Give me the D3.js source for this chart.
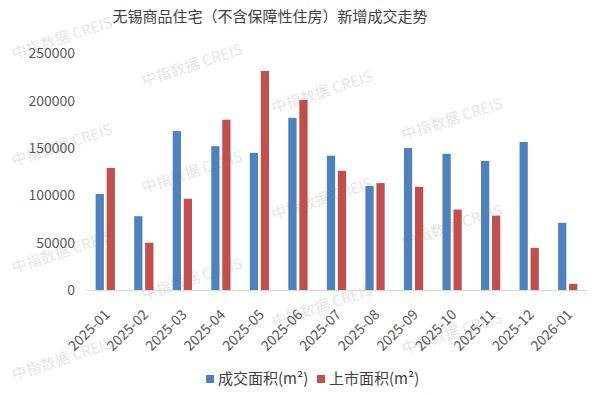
<!DOCTYPE html>
<html>
<head>
<meta charset="utf-8">
<script src="https://cdn.jsdelivr.net/npm/d3@7"></script>
<style>
  body { margin: 0; background: #fff; }
  svg text { font-family: "Noto Sans CJK SC", "Noto Sans", sans-serif; }
</style>
</head>
<body>
<div id="chart"></div>
<script>
// Data
const months = ['2025-01','2025-02','2025-03','2025-04','2025-05','2025-06','2025-07',
                '2025-08','2025-09','2025-10','2025-11','2025-12','2026-01'];
const dealArea = [101500, 78000, 168000, 152000, 145000, 182000, 142000,
                  110000, 150000, 144000, 136500, 156500, 71000];
const supplyArea = [129000, 50000, 96500, 180000, 231500, 201000, 126000,
                    113000, 109000, 85000, 78500, 44500, 6500];
const seriesNames = ['成交面积(m²)', '上市面积(m²)'];
const colors = ['#4F81BD', '#C0504D'];
const yTicks = [0, 50000, 100000, 150000, 200000, 250000];

const width = 600, height = 395;
const svg = d3.select('#chart').append('svg')
    .attr('width', width)
    .attr('height', height);

// Watermark (decoration), only the copies that fit inside the picture
const wm = svg.append('g').attr('class', 'watermark');
for (let c = 0; c < 5; c++) {
    for (let r = -1; r < 4; r++) {
        let cx = 62 + c * 130;
        let cy = 38 + c * 27 + r * 107;
        if (cx < 55 || cx > 545 || cy < 30 || cy > 370) continue;
        wm.append('text')
            .attr('transform', `translate(${cx},${cy}) rotate(-18)`)
            .attr('text-anchor', 'middle')
            .attr('dy', '0.35em')
            .style('font-size', '15px')
            .style('fill', '#e6e6e6')
            .text('中指数据 CREIS');
    }
}

// Title
svg.append('text')
    .attr('x', 270)
    .attr('y', 17)
    .attr('text-anchor', 'middle')
    .attr('dy', '0.35em')
    .style('font-size', '15px')
    .style('fill', '#404040')
    .text('无锡商品住宅（不含保障性住房）新增成交走势');

// Scales
let x = d3.scaleBand()
    .domain(months)
    .range([86, 587])
    .paddingInner(0.5)
    .paddingOuter(0.25);

let xs = d3.scaleBand()
    .domain([0, 1])
    .range([0, x.bandwidth()])
    .paddingInner(0.25);

let y = d3.scaleLinear()
    .domain([0, 250000])
    .range([290, 53.5]);

// Y axis
let yAxis = d3.axisLeft(y).tickValues(yTicks).tickFormat(d3.format('d')).tickSize(0).tickPadding(11);
svg.append('g')
    .attr('class', 'y axis')
    .attr('transform', 'translate(86,0)')
    .call(yAxis)
    .call(g => g.select('.domain').remove())
    .selectAll('text')
    .style('font-size', '14px')
    .style('fill', '#595959');

// Bars
let rows = months.map((m, i) => ({month: m, values: [dealArea[i], supplyArea[i]]}));

let groups = svg.append('g').attr('class', 'bars')
    .selectAll('g')
    .data(rows).enter()
    .append('g')
    .attr('transform', d => `translate(${x(d.month)},0)`);

groups.selectAll('rect')
    .data(d => d.values).enter()
    .append('rect')
    .attr('x', (d, i) => xs(i))
    .attr('width', xs.bandwidth())
    .attr('y', d => y(d))
    .attr('height', d => y(0) - y(d))
    .style('fill', (d, i) => colors[i]);

// X axis
let xAxis = d3.axisBottom(x).tickSize(0).tickPadding(0);
let gx = svg.append('g')
    .attr('class', 'x axis')
    .attr('transform', `translate(0,${y(0)})`)
    .call(xAxis);

gx.select('.domain').attr('stroke', '#d9d9d9').attr('stroke-width', 1);

gx.selectAll('text')
    .attr('text-anchor', 'end')
    .attr('dy', '0.35em')
    .attr('transform', 'translate(2,22) rotate(-45)')
    .style('font-size', '14px')
    .style('fill', '#595959');

// Legend
let legend = svg.append('g').attr('class', 'legend');
let legendX = [206, 317];
seriesNames.forEach((name, i) => {
    let lg = legend.append('g').attr('transform', `translate(${legendX[i]},375)`);
    lg.append('rect')
        .attr('width', 8)
        .attr('height', 8)
        .style('fill', colors[i]);
    lg.append('text')
        .attr('x', 12)
        .attr('y', 4)
        .attr('dy', '0.35em')
        .style('font-size', '15px')
        .style('fill', '#404040')
        .text(name);
});
</script>
</body>
</html>
